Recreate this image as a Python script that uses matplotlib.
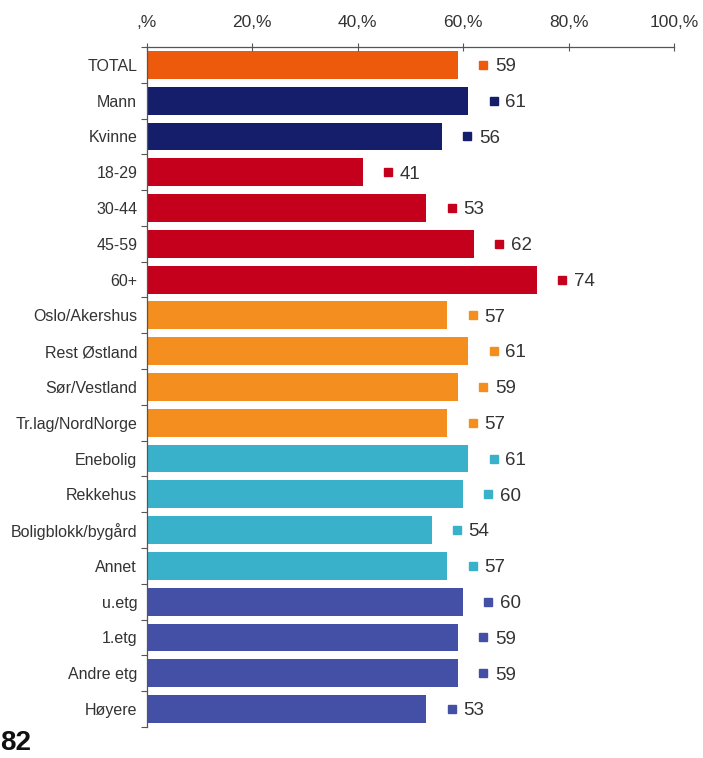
import matplotlib
matplotlib.use("Agg")
import matplotlib.pyplot as plt
from matplotlib.ticker import FixedLocator, FixedFormatter

plt.rcParams['font.family'] = ['Liberation Sans', 'DejaVu Sans']

categories = ["TOTAL", "Mann", "Kvinne", "18-29", "30-44", "45-59", "60+",
              "Oslo/Akershus", "Rest Østland", "Sør/Vestland", "Tr.lag/NordNorge",
              "Enebolig", "Rekkehus", "Boligblokk/bygård", "Annet",
              "u.etg", "1.etg", "Andre etg", "Høyere"]
values = [59, 61, 56, 41, 53, 62, 74, 57, 61, 59, 57, 61, 60, 54, 57, 60, 59, 59, 53]
groups = [0, 1, 1, 2, 2, 2, 2, 3, 3, 3, 3, 4, 4, 4, 4, 5, 5, 5, 5]
group_colors = ["#EE5A0C", "#141E6A", "#C5001C", "#F48F1F", "#3AB1CB", "#4450A6"]
x_ticks = [0, 20, 40, 60, 80, 100]
x_tick_labels = [",%", "20,%", "40,%", "60,%", "80,%", "100,%"]
page_number = "82"

fig = plt.figure(figsize=(7.03, 7.58), dpi=100)
ax = fig.add_axes([0.209, 0.041, 0.7497, 0.897])

colors = [group_colors[g] for g in groups]
ypos = list(range(len(categories)))
ax.barh(ypos, values, height=0.78, color=colors, edgecolor='none')

for y, v, c in zip(ypos, values, colors):
    ax.plot(v + 4.8, y, marker='s', markersize=6, color=c, linestyle='none')
    ax.text(v + 7.0, y + 0.05, f"{v}", va='center', ha='left', fontsize=13.5, color='#333333')

ax.set_xlim(0, 100)
ax.set_ylim(len(categories) - 0.5, -0.5)

ax.xaxis.tick_top()
ax.xaxis.set_major_locator(FixedLocator(x_ticks))
ax.xaxis.set_major_formatter(FixedFormatter(x_tick_labels))
ax.tick_params(axis='x', direction='inout', length=6, width=0.8, color='#555555',
               labelsize=12.5, labelcolor='#333333', pad=9)

ax.set_yticks(ypos)
ax.set_yticklabels(categories)
ax.tick_params(axis='y', which='major', length=0, labelsize=11.5, labelcolor='#333333', pad=7)
ax.set_yticks([y + 0.5 for y in range(-1, len(categories))], minor=True)
ax.tick_params(axis='y', which='minor', direction='out', length=4, width=0.8, color='#555555')

for side in ['right', 'bottom']:
    ax.spines[side].set_visible(False)
ax.spines['top'].set_color('#555555')
ax.spines['left'].set_color('#555555')
ax.spines['top'].set_linewidth(0.9)
ax.spines['left'].set_linewidth(0.9)

fig.text(0.0, 0.002, page_number, fontsize=20, fontweight='bold', color='#111111',
         ha='left', va='bottom')

fig.savefig("out.png", dpi=100)
